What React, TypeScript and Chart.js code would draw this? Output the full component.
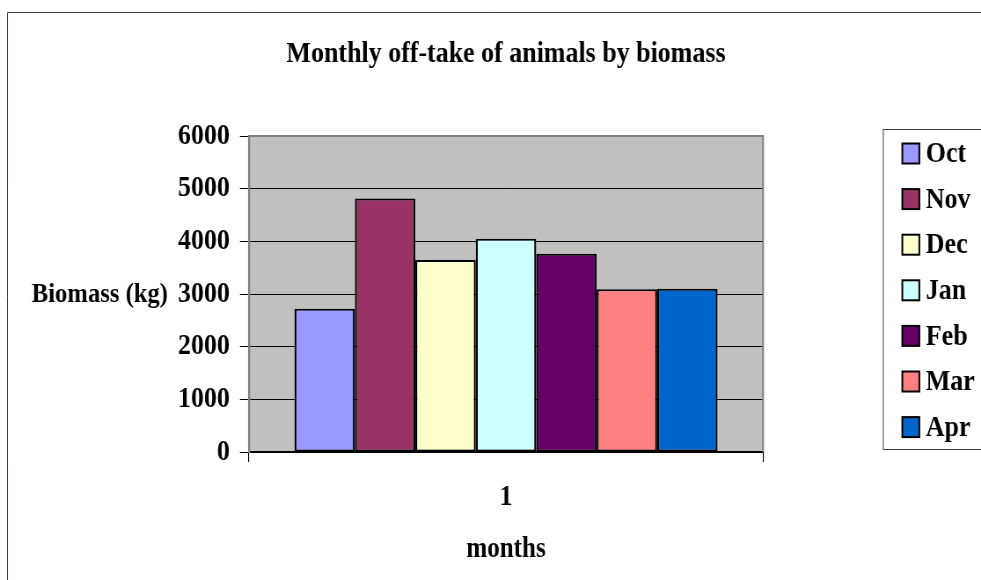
import React, { useEffect, useRef } from 'react';
import { Chart, registerables } from 'chart.js';

Chart.register(...registerables);

// ---- data ----
const categories = ['1'];
const months = ['Oct', 'Nov', 'Dec', 'Jan', 'Feb', 'Mar', 'Apr'];
const biomass = [2720, 4815, 3645, 4050, 3765, 3090, 3100];
const barColors = ['#9999FF', '#993366', '#FFFFCC', '#CCFFFF', '#660066', '#FF8080', '#0066CC'];
const yMin = 0;
const yMax = 6000;
const yStep = 1000;
const chartTitle = 'Monthly off-take of animals by biomass';
const yAxisTitle = 'Biomass (kg)';
const xAxisTitle = 'months';

const FONT = "'Liberation Serif', 'Times New Roman', Times, serif";

// The reference picture is horizontally condensed; the canvas is drawn wider and shown at 981px.
const SX = 0.88;
const VIEW_W = 981;
const VIEW_H = 580;
const CANVAS_W = Math.round(VIEW_W / SX);
const px = (x: number) => x / SX;

const decorPlugin = {
  id: 'decor',
  beforeDraw(chart: any) {
    const { ctx, chartArea } = chart;
    ctx.save();
    ctx.fillStyle = '#FFFFFF';
    ctx.fillRect(0, 0, chart.width, chart.height);
    ctx.strokeStyle = '#404040';
    ctx.lineWidth = 1;
    ctx.beginPath();
    ctx.moveTo(px(7.5), chart.height + 2);
    ctx.lineTo(px(7.5), 12.5);
    ctx.lineTo(chart.width + 2, 12.5);
    ctx.stroke();
    ctx.fillStyle = '#C0C0C0';
    ctx.fillRect(chartArea.left, chartArea.top, chartArea.right - chartArea.left, chartArea.bottom - chartArea.top);
    ctx.restore();
  },
  beforeDatasetsDraw(chart: any) {
    const { ctx, chartArea } = chart;
    ctx.save();
    ctx.strokeStyle = '#808080';
    ctx.lineWidth = 2;
    ctx.beginPath();
    ctx.moveTo(chartArea.left, chartArea.bottom);
    ctx.lineTo(chartArea.left, chartArea.top);
    ctx.lineTo(chartArea.right, chartArea.top);
    ctx.lineTo(chartArea.right, chartArea.bottom);
    ctx.stroke();
    ctx.restore();
  },
  afterDraw(chart: any) {
    const { ctx, chartArea } = chart;
    ctx.save();
    ctx.fillStyle = '#000';
    ctx.font = `bold 28px ${FONT}`;
    ctx.textAlign = 'right';
    ctx.textBaseline = 'middle';
    ctx.fillText(yAxisTitle, px(168), (chartArea.top + chartArea.bottom) / 2 + 1);

    ctx.strokeStyle = '#404040';
    ctx.lineWidth = 1;
    ctx.strokeRect(px(883) + 0.5, 129.5, px(130), 320);
    const ds = chart.data.datasets;
    ctx.font = `bold 29.5px ${FONT}`;
    ctx.textAlign = 'left';
    ds.forEach((d: any, i: number) => {
      const y = 153.5 + i * 45.6;
      ctx.fillStyle = d.backgroundColor;
      ctx.fillRect(px(902.5), y - 10, px(17), 20);
      ctx.strokeStyle = '#000';
      ctx.lineWidth = 2;
      ctx.strokeRect(px(902.5), y - 10, px(17), 20);
      ctx.fillStyle = '#000';
      ctx.fillText(d.label, px(926), y + 1);
    });
    ctx.restore();
  },
};

export default function App() {
  const ref = useRef<HTMLCanvasElement | null>(null);

  useEffect(() => {
    if (!ref.current) return;
    const chart = new Chart(ref.current, {
      type: 'bar',
      data: {
        labels: categories,
        datasets: months.map((m, i) => ({
          label: m,
          data: [biomass[i]],
          backgroundColor: barColors[i],
          borderColor: '#000000',
          borderWidth: { left: px(2), right: px(2), top: 2, bottom: 2 },
          borderSkipped: false,
          categoryPercentage: 0.823,
          barPercentage: 1,
        })),
      },
      options: {
        responsive: false,
        animation: false,
        devicePixelRatio: 1,
        layout: { padding: { left: 0, right: px(VIEW_W - 763), top: 0, bottom: 0 } },
        plugins: {
          legend: { display: false },
          tooltip: { enabled: false },
          title: {
            display: true,
            text: chartTitle,
            fullSize: false,
            color: '#000',
            font: { family: FONT, size: 29.5, weight: 'bold', lineHeight: 1.2 },
            padding: { top: 36.3, bottom: 64.3 },
          },
        },
        scales: {
          x: {
            offset: true,
            afterFit: (s: any) => { s.height = VIEW_H - 452; },
            grid: {
              offset: true,
              drawOnChartArea: false,
              drawTicks: true,
              tickLength: 10,
              lineWidth: px(1),
              color: '#000',
            },
            border: { display: true, color: '#000', width: 2 },
            ticks: {
              color: '#000',
              padding: 18,
              font: { family: FONT, size: 29.5, weight: 'bold' },
            },
            title: {
              display: true,
              text: xAxisTitle,
              color: '#000',
              font: { family: FONT, size: 28.5, weight: 'bold' },
              padding: { top: 13, bottom: 13 },
            },
          },
          y: {
            min: yMin,
            max: yMax,
            afterFit: (s: any) => { s.width = px(249); },
            grid: {
              color: '#000',
              lineWidth: 1,
              drawTicks: true,
              tickLength: px(9),
            },
            border: { display: true, color: '#808080', width: px(2) },
            ticks: {
              stepSize: yStep,
              color: '#000',
              padding: px(10),
              font: { family: FONT, size: 29.5, weight: 'bold' },
              callback: (v: any) => String(v),
            },
          },
        },
      },
      plugins: [decorPlugin],
    });
    return () => chart.destroy();
  }, []);

  return (
    <div style={{ position: 'absolute', left: 0, top: 0, width: VIEW_W, height: VIEW_H, overflow: 'hidden', background: '#fff' }}>
      <canvas
        ref={ref}
        width={CANVAS_W}
        height={VIEW_H}
        style={{ width: `${VIEW_W}px`, height: `${VIEW_H}px`, display: 'block' }}
      />
    </div>
  );
}
